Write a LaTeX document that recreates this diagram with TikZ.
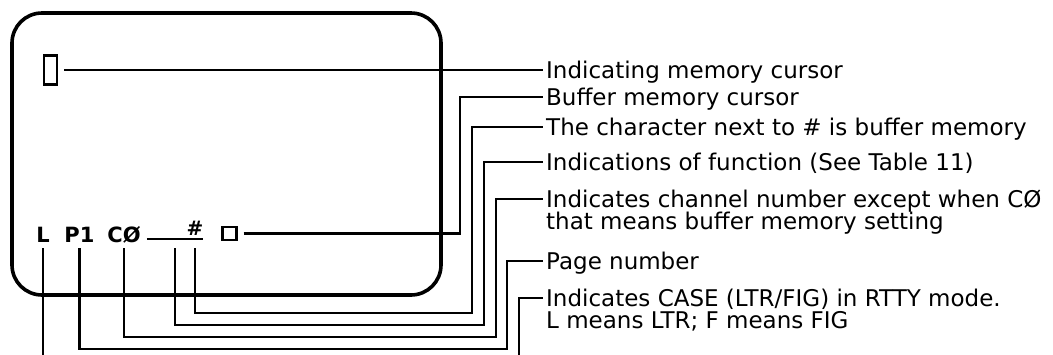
\documentclass[tikz,border=0pt]{standalone}
\usepackage{fontspec}
\setmainfont{DejaVu Sans}
\usetikzlibrary{positioning}

\tikzstyle{lbl} = [font=\fontsize{23}{22}\selectfont, anchor=west, inner sep=0pt, inner xsep=3pt, text height=17pt, text depth=1pt]
\tikzstyle{lcdtxt} = [font=\fontsize{21}{20}\selectfont\bfseries, anchor=base, inner sep=0pt, text depth=0pt]
\tikzstyle{leader} = [line width=2.5pt, shorten <=6pt]

\begin{document}
\begin{tikzpicture}[x=1pt,y=-1pt]
	\useasboundingbox (0,0) rectangle (1053,354);
	\clip (0,0) rectangle (1053,354);

	\node[draw, line width=3.6pt, rounded corners=30pt, minimum width=429pt, minimum height=282pt] (lcd) at (226.5,154) {};

	\node[draw, line width=2.4pt, minimum width=13pt, minimum height=29pt, inner sep=0pt] (mc) at (50.5,70) {};
	\node[lcdtxt] (ltr) at (43,242) {L};
	\node[lcdtxt] (p1) at (79.5,242) {P1};
	\node[lcdtxt] (co) at (124,242) {CØ};
	\node[inner sep=0pt, minimum width=56pt, minimum height=3pt, anchor=north] (ul) at (175,239) {};
	\node[lcdtxt, font=\fontsize{20}{20}\selectfont\bfseries, text depth=7pt] (hash) at (195,235) {\#};
	\node[draw, line width=2.4pt, minimum width=14pt, minimum height=13pt, inner sep=0pt] (sq) at (229.5,233.5) {};

	\draw[line width=2.5pt] (ul.north west) -- (ul.north east);

	\node[lbl] (t1) at (543,70) {Indicating memory cursor};
	\node[lbl] (t2) at (543,97) {Buffer memory cursor};
	\node[lbl] (t3) at (543,127) {The character next to \# is buffer memory};
	\node[lbl] (t4) at (543,162) {Indications of function (See Table 11)};
	\node[lbl] (t5) at (543,199) {Indicates channel number except when CØ};
	\node[lbl, below=4pt of t5.south west, anchor=north west] (t5b) {that means buffer memory setting};
	\node[lbl] (t6) at (543,261) {Page number};
	\node[lbl] (t7) at (543,298) {Indicates CASE (LTR/FIG) in RTTY mode.};
	\node[lbl, below=4pt of t7.south west, anchor=north west] (t7b) {L means LTR; F means FIG};

	\coordinate (b2) at (460,97);
	\coordinate (b3) at (472,313);
	\coordinate (b4) at (484,325);
	\coordinate (b5) at (496,337);
	\coordinate (b6) at (507,349);
	\coordinate (b7) at (519,362);

	\draw[leader] (mc.east) -- (t1.west);
	\draw[leader] (sq.east) -| (b2) -- (t2.west);
	\draw[leader] (hash.south) |- (b3) |- (t3.west);
	\draw[leader] (ul.south) |- (b4) |- (t4.west);
	\draw[leader] (co.south) |- (b5) |- (t5.west);
	\draw[leader] (p1.south) |- (b6) |- (t6.west);
	\draw[leader] (ltr.south) |- (b7) |- (t7.west);
\end{tikzpicture}
\end{document}
